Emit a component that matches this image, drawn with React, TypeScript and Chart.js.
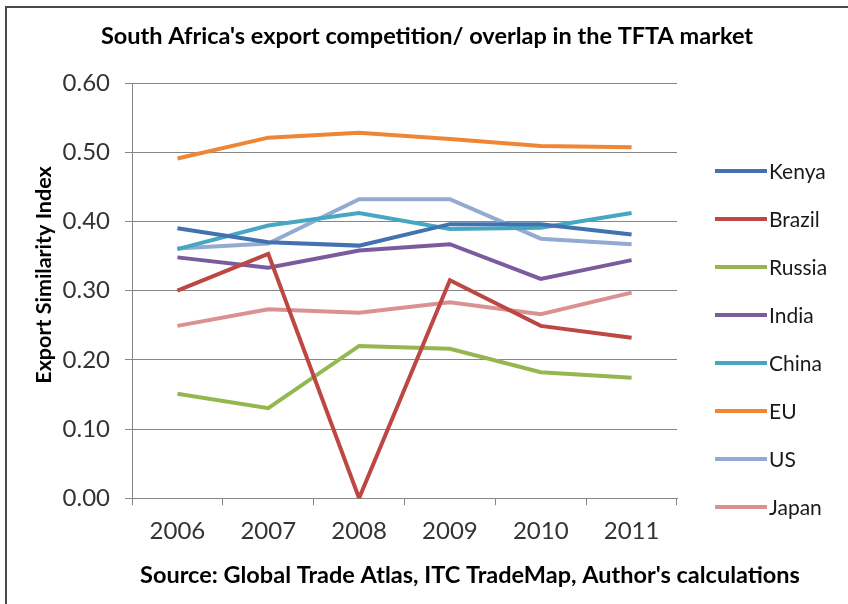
import { useEffect, useRef } from "react";
import { Chart, registerables } from "chart.js";

Chart.register(...registerables);

const TITLE = "South Africa's export competition/ overlap in the TFTA market";
const Y_TITLE = "Export Similarity Index";
const SOURCE = "Source: Global Trade Atlas, ITC TradeMap, Author's calculations";

const years = ["2006", "2007", "2008", "2009", "2010", "2011"];
const seriesNames = ["Kenya", "Brazil", "Russia", "India", "China", "EU", "US", "Japan"];
const kenya = [0.390, 0.370, 0.365, 0.396, 0.396, 0.381];
const brazil = [0.300, 0.353, 0.000, 0.315, 0.249, 0.232];
const russia = [0.151, 0.130, 0.220, 0.216, 0.182, 0.174];
const india = [0.348, 0.333, 0.358, 0.367, 0.317, 0.344];
const china = [0.360, 0.394, 0.412, 0.389, 0.391, 0.412];
const eu = [0.491, 0.521, 0.528, 0.519, 0.509, 0.507];
const us = [0.361, 0.368, 0.432, 0.432, 0.375, 0.367];
const japan = [0.249, 0.273, 0.268, 0.283, 0.266, 0.297];
const seriesValues = [kenya, brazil, russia, india, china, eu, us, japan];
const seriesColors = ["#4272B0", "#BC4743", "#94B74F", "#7A5C9E", "#46A7C2", "#EE8636", "#93ABD3", "#D99291"];

const F = "Lato, 'Liberation Sans', sans-serif";

export default function App() {
  const ref = useRef<HTMLCanvasElement | null>(null);

  useEffect(() => {
    if (!ref.current) return;
    const extras = {
      id: "extras",
      afterDraw(chart: any) {
        const ctx = chart.ctx;
        ctx.save();
        ctx.textBaseline = "middle";
        ctx.fillStyle = "#000";
        ctx.textAlign = "center";
        // title
        ctx.font = `bold 23.5px ${F}`;
        ctx.fillText(TITLE, 427, 36);
        // source line
        ctx.fillText(SOURCE, 470, 575);
        // y axis title
        ctx.save();
        ctx.translate(44, 275);
        ctx.rotate(-Math.PI / 2);
        ctx.font = `bold 21.5px ${F}`;
        ctx.fillText(Y_TITLE, 0, 0);
        ctx.restore();
        // legend
        ctx.font = `21px ${F}`;
        ctx.textAlign = "left";
        chart.data.datasets.forEach((ds: any, i: number) => {
          const y = 171 + i * 48;
          ctx.strokeStyle = ds.borderColor;
          ctx.lineWidth = 4;
          ctx.beginPath();
          ctx.moveTo(715, y);
          ctx.lineTo(767, y);
          ctx.stroke();
          ctx.fillStyle = "#1a1a1a";
          ctx.fillText(ds.label, 769, y + 1);
        });
        ctx.restore();
      },
    };

    const chart = new Chart(ref.current, {
      type: "line",
      data: {
        labels: years,
        datasets: seriesNames.map((name, i) => ({
          label: name,
          data: seriesValues[i],
          borderColor: seriesColors[i],
          backgroundColor: seriesColors[i],
          borderWidth: 4,
          pointRadius: 0,
          tension: 0,
          fill: false,
        })),
      },
      options: {
        responsive: false,
        animation: false,
        layout: { padding: { left: 0, right: 171, top: 83, bottom: 46 } },
        plugins: {
          legend: { display: false },
          tooltip: { enabled: false },
          title: { display: false },
        },
        scales: {
          x: {
            offset: true,
            grid: { offset: true, drawOnChartArea: false, color: "#868686", tickLength: 7 },
            border: { color: "#868686", width: 1 },
            ticks: { font: { family: F, size: 24 }, color: "#333", padding: 12, maxRotation: 0 },
          },
          y: {
            min: 0,
            max: 0.6,
            ticks: {
              stepSize: 0.1,
              callback: (v: any) => Number(v).toFixed(2),
              font: { family: F, size: 24 },
              color: "#333",
              padding: 15,
            },
            grid: { color: "#868686", tickLength: 7 },
            border: { color: "#868686", width: 1 },
            afterFit: (s: any) => {
              s.width = 132;
            },
          },
        },
      },
      plugins: [extras],
    });
    return () => chart.destroy();
  }, []);

  return (
    <div style={{ position: "absolute", left: 0, top: 0, width: 848, height: 604, overflow: "hidden", background: "#fff" }}>
      <div style={{ position: "absolute", left: 5, top: 6, width: 900, height: 700, border: "2px solid #4a4a4a" }} />
      <canvas ref={ref} width={848} height={604} style={{ position: "absolute", left: 0, top: 0 }} />
    </div>
  );
}
